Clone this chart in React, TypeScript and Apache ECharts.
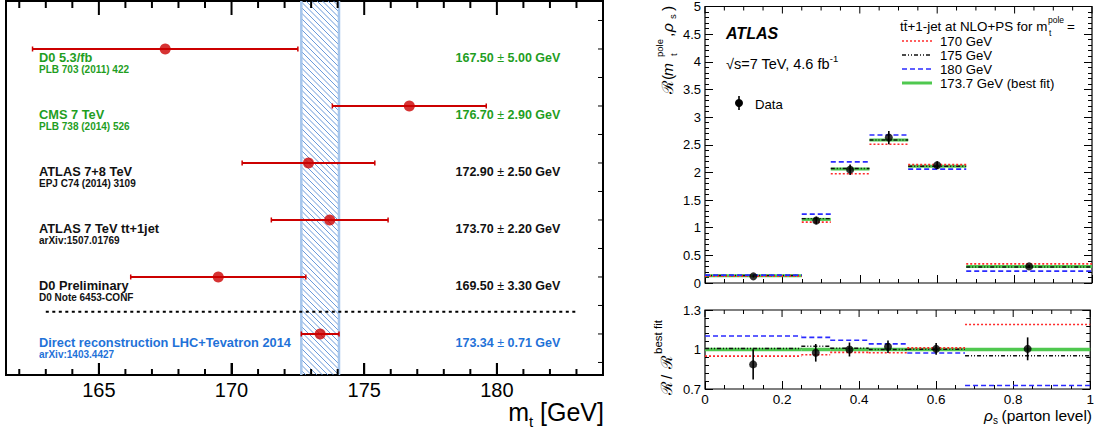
import React, { useEffect, useRef } from "react";
import * as echarts from "echarts";

const FONT = "'Liberation Sans', Arial, Helvetica, sans-serif";

// ---------- Left panel: top-quark mass measurements ----------
const measNames = [
  "D0 5.3/fb",
  "CMS 7 TeV",
  "ATLAS 7+8 TeV",
  "ATLAS 7 TeV tt+1jet",
  "D0 Preliminary",
  "Direct reconstruction LHC+Tevatron 2014",
];
const measRefs = [
  "PLB 703 (2011) 422",
  "PLB 738 (2014) 526",
  "EPJ C74 (2014) 3109",
  "arXiv:1507.01769",
  "D0 Note 6453-CONF",
  "arXiv:1403.4427",
];
const measValues = [167.5, 176.7, 172.9, 173.7, 169.5, 173.34];
const measErrors = [5.0, 2.9, 2.5, 2.2, 3.3, 0.71];
const measRows = [1, 2, 3, 4, 5, 6];
const massTickValues = [165, 170, 175, 180];
const massMinorTickValues = [162, 163, 164, 166, 167, 168, 169, 171, 172, 173, 174, 176, 177, 178, 179, 181, 182, 183];
const rowTickValues = [0.5, 1, 1.5, 2, 2.5, 3, 3.5, 4, 4.5, 5, 5.5, 6, 6.5];
const separatorMass = [163, 183];
const separatorRow = 5.61;
const combinedIndex = 5;

// ---------- Right panel: R(mt, rho_s) ----------
const binEdges = [0, 0.25, 0.325, 0.425, 0.525, 0.675, 1.0];
const dataRhoS = [0.125, 0.2875, 0.375, 0.475, 0.6, 0.8375];
const dataR = [0.12, 1.13, 2.05, 2.63, 2.13, 0.3];
const dataRErr = [0.02, 0.07, 0.095, 0.12, 0.07, 0.03];
const theory170 = [0.124, 1.1, 1.975, 2.51, 2.14, 0.345];
const theory175 = [0.135, 1.165, 2.07, 2.585, 2.11, 0.29];
const theory180 = [0.143, 1.245, 2.19, 2.675, 2.06, 0.215];
const theoryBest = [0.13, 1.15, 2.06, 2.585, 2.11, 0.3];

// ratio to best fit
const ratio170 = [0.95, 0.96, 0.978, 0.975, 1.012, 1.19];
const ratio175 = [1.008, 1.025, 1.01, 1.0, 1.002, 0.953];
const ratio180 = [1.103, 1.092, 1.07, 1.043, 0.973, 0.727];
const ratioBest = [1, 1, 1, 1, 1, 1];
const dataRatio = [0.887, 0.975, 1.0, 1.021, 1.005, 1.005];
const dataRatioErr = [0.115, 0.067, 0.053, 0.047, 0.044, 0.087];

// tick positions of the rho_s axis (major every 0.2, minor every 0.05)
const rhoMajorTicks = [0, 0.2, 0.4, 0.6, 0.8, 1.0];
const rhoMinorTicks = [0.05, 0.1, 0.15, 0.25, 0.3, 0.35, 0.45, 0.5, 0.55, 0.65, 0.7, 0.75, 0.85, 0.9, 0.95];

// axis ranges
const massMin = 161.5;
const massMax = 184;
const rowMin = 0.158;
const rowMax = 6.72;
const rMax = 5;
const ratioMin = 0.7;
const ratioMax = 1.3;

// styles
const GREEN = "#1f9e1f";
const BLUE_TXT = "#1f72d8";
const measColors = [GREEN, GREEN, "#111", "#111", "#111", BLUE_TXT];
const RED = "#cc0000";

function txt(extra: any) {
  return { fontFamily: FONT, align: "left", verticalAlign: "middle", textAlign: "left", textVerticalAlign: "middle", ...extra };
}

function rhoAxis(grid: number, labels: boolean) {
  return {
    type: "value",
    gridIndex: grid,
    position: "bottom",
    min: 0,
    max: 1,
    interval: 0.2,
    axisLine: { show: false },
    axisTick: { show: true, inside: true, length: 8, lineStyle: { color: "#000", width: 1 } },
    minorTick: { show: true, splitNumber: 4, length: 4, lineStyle: { color: "#000", width: 1 } },
    axisLabel: labels
      ? {
          show: true,
          fontSize: 13.5,
          color: "#000",
          fontFamily: FONT,
          margin: 3,
          formatter: (v: number) => String(+v.toFixed(1)),
        }
      : { show: false },
    splitLine: { show: false },
    minorSplitLine: { show: false },
  };
}

function valAxis(grid: number, position: string, min: number, max: number, interval: number, split: number, labels: boolean) {
  return {
    type: "value",
    gridIndex: grid,
    position,
    min,
    max,
    interval,
    axisLine: { show: false },
    axisTick: { show: true, inside: true, length: 8, lineStyle: { color: "#000", width: 1 } },
    minorTick: { show: true, splitNumber: split, length: 4, lineStyle: { color: "#000", width: 1 } },
    axisLabel: labels
      ? {
          show: true,
          fontSize: 13,
          color: "#000",
          fontFamily: FONT,
          margin: 4,
          formatter: (v: number) => String(+v.toFixed(1)),
        }
      : { show: false },
    splitLine: { show: false },
    minorSplitLine: { show: false },
  };
}

function binSeries(top: boolean, values: number[], stroke: string, width: number, dash: any, z: number) {
  return {
    type: "custom",
    xAxisIndex: top ? 1 : 2,
    yAxisIndex: top ? 1 : 3,
    z,
    silent: true,
    encode: { x: [0, 1], y: 2 },
    data: values.map((v, i) => [binEdges[i], binEdges[i + 1], v]),
    renderItem: (_p: any, api: any) => {
      const a = api.coord([api.value(0), api.value(2)]);
      const b = api.coord([api.value(1), api.value(2)]);
      return {
        type: "line",
        shape: { x1: a[0], y1: a[1], x2: b[0], y2: b[1] },
        style: { stroke, lineWidth: width, lineDash: dash, fill: null },
      };
    },
  };
}

function dataErrSeries(top: boolean, ys: number[], errs: number[]) {
  return {
    type: "custom",
    xAxisIndex: top ? 1 : 2,
    yAxisIndex: top ? 1 : 3,
    z: 8,
    silent: true,
    encode: { x: 0, y: 1 },
    data: ys.map((y, i) => [dataRhoS[i], y, errs[i]]),
    renderItem: (_p: any, api: any) => {
      const x = api.value(0), y = api.value(1), e = api.value(2);
      const a = api.coord([x, y - e]);
      const b = api.coord([x, y + e]);
      return {
        type: "line",
        shape: { x1: a[0], y1: a[1], x2: b[0], y2: b[1] },
        style: { stroke: "#000", lineWidth: 1.6 },
      };
    },
  };
}

function dataPointSeries(top: boolean, ys: number[]) {
  return {
    type: "scatter",
    xAxisIndex: top ? 1 : 2,
    yAxisIndex: top ? 1 : 3,
    z: 9,
    silent: true,
    symbol: "circle",
    symbolSize: 8,
    itemStyle: { color: "#000" },
    data: ys.map((y, i) => [dataRhoS[i], y]),
  };
}

// mirrored ticks on the top frame of the right panels
function rhoTopTicks(top: boolean) {
  const yTop = top ? rMax : ratioMax;
  return {
    type: "custom",
    xAxisIndex: top ? 1 : 2,
    yAxisIndex: top ? 1 : 3,
    z: 10,
    silent: true,
    encode: { x: 0, y: 2 },
    data: [...rhoMajorTicks.map((v) => [v, 1, yTop]), ...rhoMinorTicks.map((v) => [v, 0, yTop])],
    renderItem: (_p: any, api: any) => {
      const p = api.coord([api.value(0), api.value(2)]);
      const len = api.value(1) ? 7 : 4;
      return { type: "line", shape: { x1: p[0], y1: p[1], x2: p[0], y2: p[1] + len }, style: { stroke: "#000", lineWidth: 1 } };
    },
  };
}

function buildOption() {
  const bandLo = measValues[combinedIndex] - measErrors[combinedIndex];
  const bandHi = measValues[combinedIndex] + measErrors[combinedIndex];

  const series: any[] = [
    // hatched band of the combination
    {
      type: "custom",
      xAxisIndex: 0,
      yAxisIndex: 0,
      z: 3,
      silent: true,
      encode: { x: [0, 1], y: 2 },
      data: [[bandLo, bandHi, 3]],
      renderItem: (_p: any, api: any) => {
        const a = api.coord([api.value(0), rowMin]);
        const b = api.coord([api.value(1), rowMax]);
        const x0 = Math.min(a[0], b[0]), x1 = Math.max(a[0], b[0]);
        const y0 = Math.min(a[1], b[1]), y1 = Math.max(a[1], b[1]);
        const w = x1 - x0;
        const children: any[] = [];
        for (let c = y0 - w; c < y1; c += 5.5) {
          let xa = x0, ya = c, xb = x1, yb = c + w;
          if (ya < y0) { xa += y0 - ya; ya = y0; }
          if (yb > y1) { xb -= yb - y1; yb = y1; }
          if (xb - xa < 0.5) continue;
          children.push({ type: "line", shape: { x1: xa, y1: ya, x2: xb, y2: yb }, style: { stroke: "#5a8fd6", lineWidth: 0.9 } });
        }
        children.push({ type: "line", shape: { x1: x0, y1: y0, x2: x0, y2: y1 }, style: { stroke: "#a6c6ec", lineWidth: 2.5 } });
        children.push({ type: "line", shape: { x1: x1, y1: y0, x2: x1, y2: y1 }, style: { stroke: "#a6c6ec", lineWidth: 2.5 } });
        return { type: "group", children };
      },
    },
    // dotted separator
    {
      type: "custom",
      xAxisIndex: 0,
      yAxisIndex: 0,
      z: 4,
      silent: true,
      encode: { x: [0, 1], y: 2 },
      data: [[separatorMass[0], separatorMass[1], separatorRow]],
      renderItem: (_p: any, api: any) => {
        const a = api.coord([api.value(0), api.value(2)]);
        const b = api.coord([api.value(1), api.value(2)]);
        return { type: "line", shape: { x1: a[0], y1: a[1], x2: b[0], y2: b[1] }, style: { stroke: "#000", lineWidth: 2.2, lineDash: [3, 3.5] } };
      },
    },
    // error bars of measurements
    {
      type: "custom",
      xAxisIndex: 0,
      yAxisIndex: 0,
      z: 5,
      silent: true,
      encode: { x: 0, y: 2 },
      data: measRows.map((r, i) => [measValues[i], measErrors[i], r]),
      renderItem: (_p: any, api: any) => {
        const v = api.value(0), e = api.value(1), r = api.value(2);
        const a = api.coord([v - e, r]);
        const b = api.coord([v + e, r]);
        return {
          type: "group",
          children: [
            { type: "line", shape: { x1: a[0], y1: a[1], x2: b[0], y2: b[1] }, style: { stroke: RED, lineWidth: 2 } },
            { type: "line", shape: { x1: a[0], y1: a[1] - 2.5, x2: a[0], y2: a[1] + 2.5 }, style: { stroke: RED, lineWidth: 1.5 } },
            { type: "line", shape: { x1: b[0], y1: b[1] - 2.5, x2: b[0], y2: b[1] + 2.5 }, style: { stroke: RED, lineWidth: 1.5 } },
          ],
        };
      },
    },
    // central values
    {
      type: "scatter",
      xAxisIndex: 0,
      yAxisIndex: 0,
      z: 6,
      silent: true,
      symbol: "circle",
      symbolSize: 11,
      itemStyle: { color: RED },
      data: measRows.map((r, i) => [measValues[i], r]),
    },
    // labels & values
    {
      type: "custom",
      xAxisIndex: 0,
      yAxisIndex: 0,
      z: 7,
      silent: true,
      encode: { x: 0, y: 2 },
      data: measRows.map((r, i) => [measValues[i], measErrors[i], r]),
      renderItem: (params: any, api: any) => {
        const i = params.dataIndex;
        const v = api.value(0), e = api.value(1), r = api.value(2);
        const p = api.coord([massMin, r]);
        const pv = api.coord([massMax, r]);
        const col = measColors[i];
        const bold = { fill: col, color: col, fontWeight: "bold", fontSize: 12.5, fontFamily: FONT };
        return {
          type: "group",
          children: [
            { type: "text", x: p[0] + 33, y: p[1] + 8.5, style: txt({ text: measNames[i], fill: col, fontSize: 12.8, fontWeight: "bold" }) },
            { type: "text", x: p[0] + 33, y: p[1] + 20.5, style: txt({ text: measRefs[i], fill: col, fontSize: 10, fontWeight: "bold" }) },
            {
              type: "text",
              x: pv[0] - 147.5,
              y: pv[1] + 9,
              style: txt({
                text: `{b|${v.toFixed(2)}} {p|\u00b1} {b|${e.toFixed(2)} GeV}`,
                fill: col,
                fontSize: 12.5,
                fontWeight: "bold",
                rich: { b: bold, p: { fill: col, color: col, fontWeight: "normal", fontSize: 12.5, fontFamily: FONT } },
              }),
            },
          ],
        };
      },
    },
    // ticks of the left panel frame: mass ticks (top and bottom) and row ticks (right)
    {
      type: "custom",
      xAxisIndex: 0,
      yAxisIndex: 0,
      z: 20,
      encode: { x: 0, y: 2 },
      data: [...massTickValues.map((v) => [v, 1, 3]), ...massMinorTickValues.map((v) => [v, 0, 3])],
      renderItem: (_p: any, api: any) => {
        const major = api.value(1) === 1;
        const t = api.coord([api.value(0), rowMin]);
        const b = api.coord([api.value(0), rowMax]);
        const yTop = Math.min(t[1], b[1]);
        const yBot = Math.max(t[1], b[1]);
        const lt = major ? 14 : 7;
        const lb = major ? 12 : 6;
        return {
          type: "group",
          children: [
            { type: "line", shape: { x1: t[0], y1: yTop, x2: t[0], y2: yTop + lt }, style: { stroke: "#000", lineWidth: 2 } },
            { type: "line", shape: { x1: t[0], y1: yBot, x2: t[0], y2: yBot - lb }, style: { stroke: "#000", lineWidth: 2 } },
          ],
        };
      },
    },
    {
      type: "custom",
      xAxisIndex: 0,
      yAxisIndex: 0,
      z: 20,
      encode: { x: 0, y: 1 },
      data: rowTickValues.map((r) => [massMax, r]),
      renderItem: (_p: any, api: any) => {
        const p = api.coord([api.value(0), api.value(1)]);
        return { type: "line", shape: { x1: p[0], y1: p[1], x2: p[0] - 5, y2: p[1] }, style: { stroke: "#000", lineWidth: 1 } };
      },
    },

    // ---- right top ----
    binSeries(true, theoryBest, "#4fc84f", 3, null, 3),
    binSeries(true, theory175, "#111", 1.4, [4, 2, 1, 2, 1, 2], 4),
    binSeries(true, theory170, "#ff2a2a", 1.6, [2, 2], 5),
    binSeries(true, theory180, "#2a2aff", 1.6, [5, 3], 6),
    dataErrSeries(true, dataR, dataRErr),
    dataPointSeries(true, dataR),
    rhoTopTicks(true),

    // ---- right bottom ----
    binSeries(false, ratioBest, "#4fc84f", 3.5, null, 3),
    binSeries(false, ratio175, "#111", 1.4, [4, 2, 1, 2, 1, 2], 4),
    binSeries(false, ratio170, "#ff2a2a", 1.6, [2, 2], 5),
    binSeries(false, ratio180, "#2a2aff", 1.6, [5, 3], 6),
    dataErrSeries(false, dataRatio, dataRatioErr),
    dataPointSeries(false, dataRatio),
    rhoTopTicks(false),
  ];

  const small = 9.5;
  const graphic: any[] = [
    // left x-axis title
    { type: "text", x: 529, y: 412, style: txt({ text: "m", fontSize: 25, fill: "#000", align: "right", textAlign: "right" }) },
    { type: "text", x: 529, y: 421, style: txt({ text: "t", fontSize: 15, fill: "#000" }) },
    { type: "text", x: 604, y: 412, style: txt({ text: "[GeV]", fontSize: 25, fill: "#000", align: "right", textAlign: "right" }) },

    // ATLAS label
    { type: "text", x: 726, y: 33, style: txt({ text: "ATLAS", fontSize: 16, fontWeight: "bold", fontStyle: "italic", fill: "#000" }) },
    {
      type: "text",
      x: 726,
      y: 62,
      style: txt({
        text: "{n|\u221As=7 TeV, 4.6 fb}{s|-1}",
        fill: "#000",
        fontSize: 14.5,
        rich: {
          n: { fontSize: 14.5, fontFamily: FONT, fill: "#000", color: "#000", lineHeight: 18, verticalAlign: "bottom" },
          s: { fontSize: 9.5, fontFamily: FONT, fill: "#000", color: "#000", lineHeight: 10, verticalAlign: "top" },
        },
      }),
    },

    // Data legend
    { type: "line", shape: { x1: 739, y1: 96, x2: 739, y2: 110 }, style: { stroke: "#000", lineWidth: 1.6 } },
    { type: "circle", shape: { cx: 739, cy: 103, r: 4 }, style: { fill: "#000" } },
    { type: "text", x: 755, y: 104, style: txt({ text: "Data", fontSize: 13.2, fill: "#000" }) },

    // theory legend header
    { type: "text", x: 900, y: 26, style: txt({ text: "tt\u0304+1-jet at NLO+PS for m", fontSize: 13.4, fill: "#000" }) },
    { type: "text", x: 1048, y: 20, style: txt({ text: "pole", fontSize: 8.5, fill: "#000" }) },
    { type: "text", x: 1049, y: 33, style: txt({ text: "t", fontSize: 8.5, fill: "#000" }) },
    { type: "text", x: 1067, y: 26, style: txt({ text: "=", fontSize: 13.4, fill: "#000" }) },

    { type: "line", shape: { x1: 902, y1: 41, x2: 932, y2: 41 }, style: { stroke: "#ff2a2a", lineWidth: 1.6, lineDash: [2, 2] } },
    { type: "text", x: 940, y: 41, style: txt({ text: "170 GeV", fontSize: 13.2, fill: "#000" }) },
    { type: "line", shape: { x1: 902, y1: 55, x2: 932, y2: 55 }, style: { stroke: "#111", lineWidth: 1.4, lineDash: [4, 2, 1, 2, 1, 2] } },
    { type: "text", x: 940, y: 55, style: txt({ text: "175 GeV", fontSize: 13.2, fill: "#000" }) },
    { type: "line", shape: { x1: 902, y1: 69, x2: 932, y2: 69 }, style: { stroke: "#2a2aff", lineWidth: 1.6, lineDash: [5, 3] } },
    { type: "text", x: 940, y: 69, style: txt({ text: "180 GeV", fontSize: 13.2, fill: "#000" }) },
    { type: "line", shape: { x1: 902, y1: 83, x2: 932, y2: 83 }, style: { stroke: "#4fc84f", lineWidth: 3 } },
    { type: "text", x: 940, y: 83, style: txt({ text: "173.7 GeV (best fit)", fontSize: 13.2, fill: "#000" }) },

    // top y title (rotated)
    {
      type: "group",
      x: 667,
      y: 94,
      rotation: Math.PI / 2,
      children: [
        { type: "text", x: 0, y: 0, style: txt({ text: "\u211B(", fontSize: 15.5, fill: "#000" }) },
        { type: "text", x: 18, y: 0, style: txt({ text: "m", fontSize: 15.5, fontStyle: "italic", fill: "#000" }) },
        { type: "text", x: 37, y: -8, style: txt({ text: "pole", fontSize: small, fill: "#000" }) },
        { type: "text", x: 38, y: 6, style: txt({ text: "t", fontSize: small, fill: "#000" }) },
        { type: "text", x: 57, y: 0, style: txt({ text: ",", fontSize: 15.5, fill: "#000" }) },
        { type: "text", x: 62, y: 0, style: txt({ text: "\u03C1", fontSize: 15.5, fontStyle: "italic", fill: "#000" }) },
        { type: "text", x: 75, y: 5, style: txt({ text: "s", fontSize: small, fill: "#000" }) },
        { type: "text", x: 83, y: 0, style: txt({ text: ")", fontSize: 15.5, fill: "#000" }) },
      ],
    },
    // bottom y title (rotated)
    {
      type: "group",
      x: 666,
      y: 395,
      rotation: Math.PI / 2,
      children: [
        { type: "text", x: 0, y: 0, style: txt({ text: "\u211B", fontSize: 15.5, fill: "#000" }) },
        { type: "text", x: 16, y: 0, style: txt({ text: "/", fontSize: 15.5, fill: "#000" }) },
        { type: "text", x: 26, y: 0, style: txt({ text: "\u211B", fontSize: 15.5, fill: "#000" }) },
        { type: "text", x: 41, y: -8, style: txt({ text: "best fit", fontSize: 11.5, fill: "#000" }) },
      ],
    },
    // bottom x title
    { type: "text", x: 984, y: 415, style: txt({ text: "\u03C1", fontSize: 15.5, fontStyle: "italic", fill: "#000" }) },
    { type: "text", x: 993, y: 420, style: txt({ text: "s", fontSize: 10, fill: "#000" }) },
    { type: "text", x: 1092, y: 415, style: txt({ text: "(parton level)", fontSize: 15.5, fill: "#000", align: "right", textAlign: "right" }) },
  ];

  return {
    animation: false,
    backgroundColor: "#fff",
    grid: [
      { left: 6, top: 1, width: 597, height: 374, show: true, borderColor: "#000", borderWidth: 2, backgroundColor: "transparent" },
      { left: 705, top: 3, width: 387, height: 280, show: true, borderColor: "#000", borderWidth: 1.2, backgroundColor: "transparent" },
      { left: 705, top: 310, width: 387, height: 79, show: true, borderColor: "#000", borderWidth: 1.2, backgroundColor: "transparent" },
    ],
    xAxis: [
      {
        type: "value",
        gridIndex: 0,
        position: "bottom",
        min: massMin,
        max: massMax,
        axisLine: { show: false },
        axisTick: { show: true, inside: true, length: 12, customValues: massTickValues, lineStyle: { color: "#000", width: 2 } },
        axisLabel: { show: true, customValues: massTickValues, fontSize: 20, color: "#000", fontFamily: FONT, margin: 5 },
        splitLine: { show: false },
      },
      rhoAxis(1, false),
      rhoAxis(2, true),
    ],
    yAxis: [
      {
        type: "value",
        gridIndex: 0,
        position: "left",
        min: rowMin,
        max: rowMax,
        inverse: true,
        axisLine: { show: false },
        axisTick: { show: false },
        axisLabel: { show: false },
        splitLine: { show: false },
      },
      valAxis(1, "left", 0, rMax, 0.5, 5, true),
      valAxis(1, "right", 0, rMax, 0.5, 5, false),
      valAxis(2, "left", ratioMin, ratioMax, 0.3, 5, true),
      valAxis(2, "right", ratioMin, ratioMax, 0.3, 5, false),
    ],
    series,
    graphic,
  };
}

export default function App() {
  const ref = useRef<HTMLDivElement>(null);
  useEffect(() => {
    if (!ref.current) return;
    const chart = echarts.init(ref.current, null, { renderer: "svg" });
    chart.setOption(buildOption() as any);
    return () => chart.dispose();
  }, []);
  return (
    <div
      ref={ref}
      style={{ position: "fixed", left: 0, top: 0, width: 1097, height: 432, background: "#fff" }}
    />
  );
}
